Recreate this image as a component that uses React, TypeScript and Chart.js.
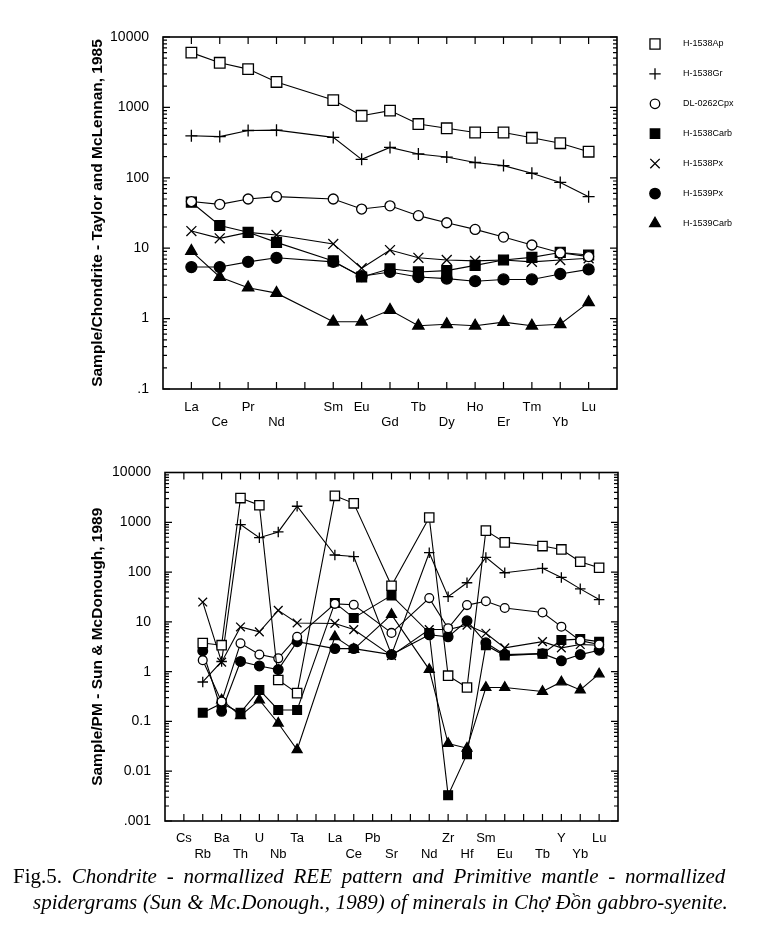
import React, { useEffect, useRef } from 'react';
import { Chart, registerables } from 'chart.js';
import { drawPoint } from 'chart.js/helpers';

Chart.register(...registerables);

// ---------------- data ----------------
const seriesNames = ['H-1538Ap', 'H-1538Gr', 'DL-0262Cpx', 'H-1538Carb', 'H-1538Px', 'H-1539Px', 'H-1539Carb'];

// Chondrite-normalised REE (top chart)
const reeTickLabels: string[][] = [
  ['La', ''], ['', 'Ce'], ['Pr', ''], ['', 'Nd'], ['', ''], ['Sm', ''], ['Eu', ''], ['', 'Gd'],
  ['Tb', ''], ['', 'Dy'], ['Ho', ''], ['', 'Er'], ['Tm', ''], ['', 'Yb'], ['Lu', ''],
];
const reeAp = [6000, 4300, 3500, 2300, null, 1270, 760, 900, 580, 505, 440, 440, 370, 310, 235];
const reeGr = [395, 385, 470, 475, null, 375, 183, 270, 218, 197, 165, 149, 116, 86, 54];
const reeCpx = [46, 42, 50, 54, null, 50, 36, 40, 29, 23, 18.5, 14.4, 11.1, 8.6, 7.6];
const reeCarb = [45, 21, 16.8, 12.1, null, 6.6, 3.9, 5.1, 4.6, 4.8, 5.7, 6.8, 7.4, 8.7, 8.0];
const reePx = [17.5, 13.8, 16.8, 15.4, null, 11.5, 5.2, 9.4, 7.3, 6.8, 6.6, 6.8, 6.4, 6.8, 7.2];
const reePx39 = [5.4, 5.4, 6.4, 7.3, null, 6.4, 4.0, 4.6, 3.9, 3.7, 3.4, 3.6, 3.6, 4.3, 5.0];
const reeCarb39 = [9.1, 3.9, 2.75, 2.3, null, 0.9, 0.9, 1.32, 0.79, 0.83, 0.79, 0.89, 0.79, 0.83, 1.7];
const reeYTicks = [0.1, 1, 10, 100, 1000, 10000];
const reeYTickLabels = ['.1', '1', '10', '100', '1000', '10000'];
const reeYTitle = 'Sample/Chondrite - Taylor and McLennan, 1985';

// Primitive-mantle-normalised spidergram (bottom chart)
const spiderTickLabels: string[][] = [
  ['Cs', ''], ['', 'Rb'], ['Ba', ''], ['', 'Th'], ['U', ''], ['', 'Nb'], ['Ta', ''], ['', ''],
  ['La', ''], ['', 'Ce'], ['Pb', ''], ['', 'Sr'], ['', ''], ['', 'Nd'], ['Zr', ''], ['', 'Hf'],
  ['Sm', ''], ['', 'Eu'], ['', ''], ['', 'Tb'], ['Y', ''], ['', 'Yb'], ['Lu', ''],
];
const spAp = [null, 3.75, 3.4, 3060, 2200, 0.68, 0.37, null, 3400, 2400, null, 53, null, 1250, 0.83, 0.48, 680, 395, null, 333, 285, 161, 122];
const spGr = [null, 0.62, 1.6, 900, 490, 640, 2100, null, 220, 205, null, 2.2, null, 245, 32, 61, 197, 97, null, 119, 78, 46, 28];
const spCpx = [null, 1.7, 0.25, 3.7, 2.2, 1.85, 5.0, null, 23, 22, null, 6.0, null, 30, 7.4, 21.7, 26, 19, null, 15.4, 8.0, 4.2, 3.5];
const spCarb = [null, 0.15, 0.23, 0.15, 0.43, 0.17, 0.17, null, 24, 12, null, 34, null, 6.0, 0.0033, 0.022, 3.4, 2.1, null, 2.3, 4.3, 4.5, 4.0];
const spPx = [null, 25, 1.55, 7.9, 6.3, 17, 9.5, null, 9.3, 7.0, null, 2.1, null, 7.0, 7.0, 8.6, 5.9, 3.0, null, 4.0, 3.0, 3.5, 3.4];
const spPx39 = [null, 2.6, 0.16, 1.6, 1.3, 1.1, 4.0, null, 2.9, 2.9, null, 2.2, null, 5.5, 5.0, 10.5, 3.8, 2.2, null, 2.3, 1.65, 2.2, 2.7];
const spCarb39 = [null, null, 0.27, 0.13, 0.27, 0.092, 0.027, null, 5.0, 2.8, null, 14, null, 1.1, 0.036, 0.029, 0.48, 0.48, null, 0.40, 0.62, 0.43, 0.9];
const spYTicks = [0.001, 0.01, 0.1, 1, 10, 100, 1000, 10000];
const spYTickLabels = ['.001', '0.01', '0.1', '1', '10', '100', '1000', '10000'];
const spYTitle = 'Sample/PM - Sun & McDonough, 1989';

// ---------------- styles ----------------
const markerStyles = [
  { pointStyle: 'rect', filled: false, r: 7.5 },
  { pointStyle: 'cross', filled: false, r: 6 },
  { pointStyle: 'circle', filled: false, r: 5 },
  { pointStyle: 'rect', filled: true, r: 7 },
  { pointStyle: 'crossRot', filled: false, r: 7 },
  { pointStyle: 'circle', filled: true, r: 5.5 },
  { pointStyle: 'triangle', filled: true, r: 6.5 },
];

const SANS = '"Liberation Sans", Arial, Helvetica, sans-serif';

function buildDatasets(values: (number | null)[][], scale: number) {
  return seriesNames.map((name, s) => ({
    label: name,
    data: values[s].map((v, i) => ({ x: i, y: v })),
    borderColor: '#000',
    borderWidth: 1.1,
    pointStyle: markerStyles[s].pointStyle,
    pointRadius: markerStyles[s].r * scale,
    pointHoverRadius: markerStyles[s].r * scale,
    pointBorderWidth: 1.3,
    pointBorderColor: '#000',
    pointBackgroundColor: markerStyles[s].filled ? '#000' : '#fff',
    spanGaps: true,
    tension: 0,
    fill: false,
  }));
}

function framePlugin(nx: number, yMin: number, yMax: number) {
  return {
    id: 'frame',
    afterDraw(chart: any) {
      const { ctx, chartArea } = chart;
      const { left, right, top, bottom } = chartArea;
      const xs = chart.scales.x;
      const ys = chart.scales.y;
      ctx.save();
      ctx.strokeStyle = '#000';
      ctx.lineWidth = 1.6;
      ctx.strokeRect(left, top, right - left, bottom - top);
      ctx.lineWidth = 1.2;
      ctx.beginPath();
      for (let i = 0; i < nx; i++) {
        const px = xs.getPixelForValue(i);
        ctx.moveTo(px, top); ctx.lineTo(px, top + 7);
        ctx.moveTo(px, bottom); ctx.lineTo(px, bottom - 7);
      }
      const e0 = Math.round(Math.log10(yMin));
      const e1 = Math.round(Math.log10(yMax));
      for (let e = e0; e <= e1; e++) {
        const base = Math.pow(10, e);
        const py = ys.getPixelForValue(base);
        ctx.moveTo(left, py); ctx.lineTo(left + 7, py);
        ctx.moveTo(right, py); ctx.lineTo(right - 7, py);
        if (e < e1) {
          for (let k = 2; k <= 9; k++) {
            const pm = ys.getPixelForValue(k * base);
            ctx.moveTo(left, pm); ctx.lineTo(left + 4, pm);
            ctx.moveTo(right, pm); ctx.lineTo(right - 4, pm);
          }
        }
      }
      ctx.stroke();
      ctx.restore();
    },
  };
}

const legendPlugin = {
  id: 'sideLegend',
  afterDraw(chart: any) {
    const { ctx } = chart;
    ctx.save();
    chart.data.datasets.forEach((ds: any, i: number) => {
      const y = 44 + i * 29.9;
      ctx.fillStyle = ds.pointBackgroundColor;
      ctx.strokeStyle = '#000';
      ctx.lineWidth = 1.3;
      drawPoint(ctx, { pointStyle: ds.pointStyle, radius: ds.pointRadius * 0.95, borderWidth: 1.3, rotation: 0 } as any, 655, y);
      ctx.fillStyle = '#000';
      ctx.font = `9px ${SANS}`;
      ctx.textBaseline = 'middle';
      ctx.textAlign = 'left';
      ctx.fillText(ds.label, 683, y);
    });
    ctx.restore();
  },
};

function makeConfig(opts: {
  values: (number | null)[][];
  tickLabels: string[][];
  yTicks: number[];
  yTickLabels: string[];
  yTitle: string;
  padding: { left: number; right: number; top: number; bottom: number };
  yWidth: number;
  xHeight: number;
  xPad: number;
  lineH: string;
  markerScale: number;
  withLegend: boolean;
}) {
  const nx = opts.tickLabels.length;
  const yMin = opts.yTicks[0];
  const yMax = opts.yTicks[opts.yTicks.length - 1];
  const plugins: any[] = [framePlugin(nx, yMin, yMax)];
  if (opts.withLegend) plugins.push(legendPlugin);
  return {
    type: 'line' as const,
    data: { datasets: buildDatasets(opts.values, opts.markerScale) },
    plugins,
    options: {
      responsive: false,
      animation: false,
      events: [],
      layout: { padding: opts.padding },
      plugins: { legend: { display: false }, tooltip: { enabled: false }, title: { display: false } },
      scales: {
        x: {
          type: 'linear',
          min: -1,
          max: nx,
          afterBuildTicks: (axis: any) => {
            axis.ticks = opts.tickLabels.map((_, i) => ({ value: i }));
          },
          afterFit: (axis: any) => { axis.height = opts.xHeight; },
          grid: { display: false, drawTicks: false },
          border: { display: false },
          ticks: {
            autoSkip: false,
            maxRotation: 0,
            minRotation: 0,
            padding: opts.xPad,
            color: '#000',
            font: { family: SANS, size: 13, lineHeight: opts.lineH },
            callback: (v: any) => opts.tickLabels[Math.round(v)] ?? '',
          },
        },
        y: {
          type: 'logarithmic',
          min: yMin,
          max: yMax,
          afterBuildTicks: (axis: any) => {
            axis.ticks = opts.yTicks.map((v) => ({ value: v, major: false }));
          },
          afterFit: (axis: any) => { axis.width = opts.yWidth; },
          grid: { display: false, drawTicks: false },
          border: { display: false },
          title: {
            display: true,
            text: opts.yTitle,
            color: '#000',
            font: { family: SANS, size: 15.5, weight: 'bold' },
            padding: { top: 0, bottom: 0 },
          },
          ticks: {
            padding: 14,
            color: '#000',
            font: { family: SANS, size: 14 },
            callback: (v: any) => {
              const idx = opts.yTicks.findIndex((t) => Math.abs(Math.log10(t) - Math.log10(v)) < 1e-6);
              return idx >= 0 ? opts.yTickLabels[idx] : '';
            },
          },
        },
      },
    },
  };
}

export default function App() {
  const topRef = useRef<HTMLCanvasElement | null>(null);
  const botRef = useRef<HTMLCanvasElement | null>(null);

  useEffect(() => {
    const c1 = new Chart(topRef.current as HTMLCanvasElement, makeConfig({
      values: [reeAp, reeGr, reeCpx, reeCarb, reePx, reePx39, reeCarb39],
      tickLabels: reeTickLabels,
      yTicks: reeYTicks,
      yTickLabels: reeYTickLabels,
      yTitle: reeYTitle,
      padding: { left: 88, right: 147, top: 37, bottom: 0 },
      yWidth: 75,
      xHeight: 51,
      xPad: 10.5,
      lineH: '15px',
      markerScale: 1,
      withLegend: true,
    }) as any);
    const c2 = new Chart(botRef.current as HTMLCanvasElement, makeConfig({
      values: [spAp, spGr, spCpx, spCarb, spPx, spPx39, spCarb39],
      tickLabels: spiderTickLabels,
      yTicks: spYTicks,
      yTickLabels: spYTickLabels,
      yTitle: spYTitle,
      padding: { left: 88, right: 146, top: 32.5, bottom: 0 },
      yWidth: 77,
      xHeight: 49,
      xPad: 9,
      lineH: '16px',
      markerScale: 0.88,
      withLegend: false,
    }) as any);
    return () => { c1.destroy(); c2.destroy(); };
  }, []);

  const serif = '"Liberation Serif", "DejaVu Serif", "Times New Roman", serif';
  return (
    <div style={{ position: 'absolute', left: 0, top: 0, width: 764, height: 928, background: '#fff', overflow: 'hidden' }}>
      <canvas ref={topRef} width={764} height={440} style={{ position: 'absolute', left: 0, top: 0 }} />
      <canvas ref={botRef} width={764} height={430} style={{ position: 'absolute', left: 0, top: 440 }} />
      <div style={{ position: 'absolute', left: 13, top: 863.9, fontFamily: serif, fontSize: 21, lineHeight: '24px', wordSpacing: '4.5px', whiteSpace: 'nowrap', color: '#000' }}>
        <span>Fig.5. </span><i>Chondrite - normallized REE pattern and Primitive mantle - normallized</i>
      </div>
      <div style={{ position: 'absolute', left: 33, top: 889.9, fontFamily: serif, fontSize: 21, lineHeight: '24px', wordSpacing: '0.5px', whiteSpace: 'nowrap', color: '#000' }}>
        <i>spidergrams (Sun &amp; Mc.Donough., 1989) of minerals in Chợ Đồn gabbro-syenite.</i>
      </div>
    </div>
  );
}
